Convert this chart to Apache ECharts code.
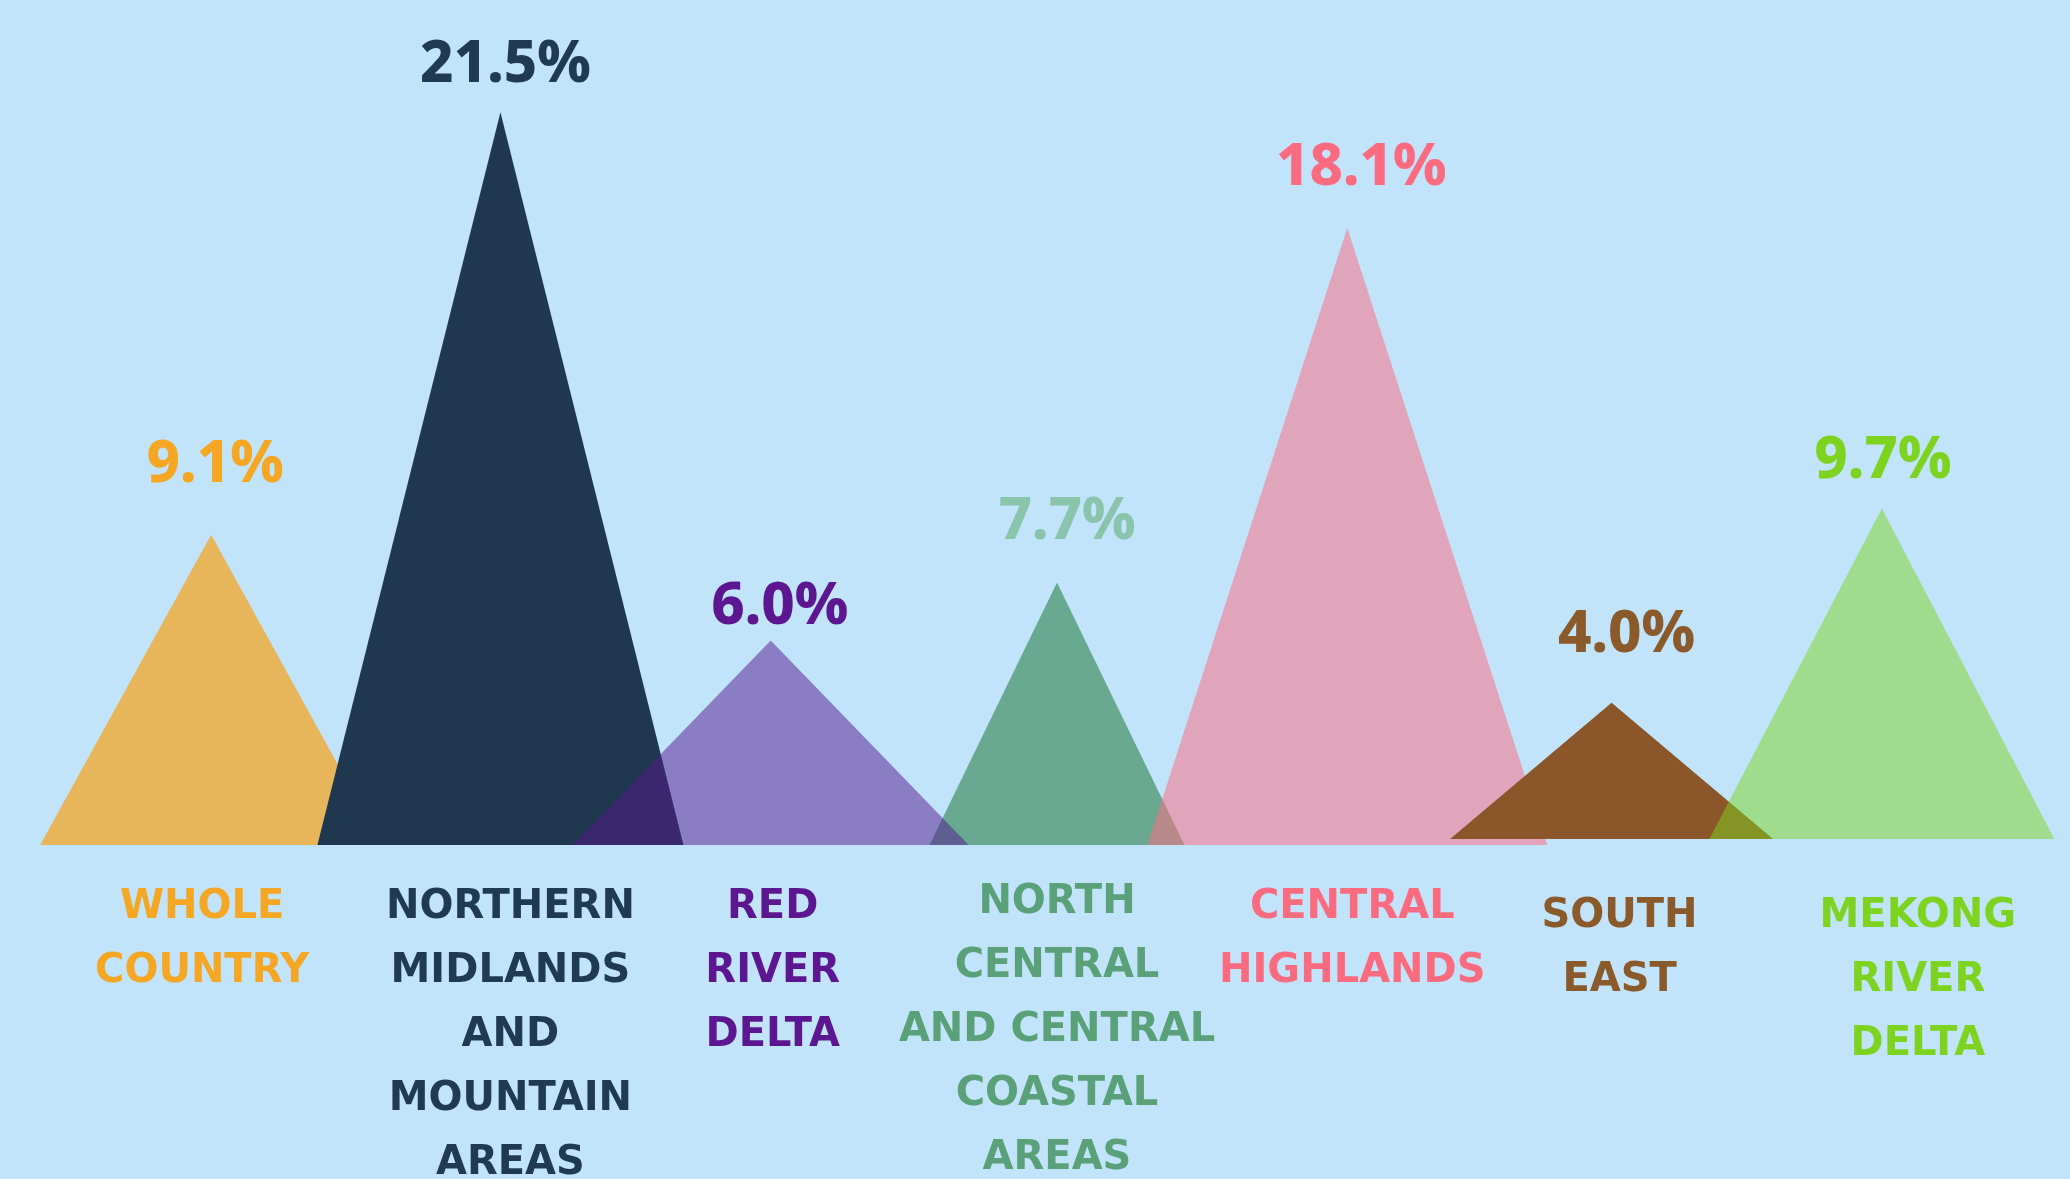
<!DOCTYPE html>
<html>
<head>
<meta charset="utf-8">
<script src="https://cdn.jsdelivr.net/npm/echarts@6/dist/echarts.min.js"></script>
<style>
  html, body { margin: 0; padding: 0; background: #c1e4fb; overflow: hidden; }
  #chart { width: 100vw; height: 100vh; }
</style>
</head>
<body>
<div id="chart"></div>
<script>
// ---- data ----
const categories = [
  'WHOLE\nCOUNTRY',
  'NORTHERN\nMIDLANDS\nAND\nMOUNTAIN\nAREAS',
  'RED\nRIVER\nDELTA',
  'NORTH\nCENTRAL\nAND CENTRAL\nCOASTAL\nAREAS',
  'CENTRAL\nHIGHLANDS',
  'SOUTH\nEAST',
  'MEKONG\nRIVER\nDELTA'
];
const values = [9.1, 21.5, 6.0, 7.7, 18.1, 4.0, 9.7];

// ---- styles ----
const fillColors = ['#e7b55a', '#20384f', 'rgba(83,22,141,0.5)', '#69a992',
                    'rgba(255,107,129,0.52)', '#8b572a', 'rgba(126,211,33,0.5)'];
const valueLabelColors = ['#f5a623', '#1f3a52', '#5b1690', '#8ac4ac', '#fb6b80', '#8b5a2b', '#7ed321'];
const catLabelColors = ['#f5a623', '#1f3a52', '#5b1690', '#5aa078', '#fb6b80', '#8b5a2b', '#7ed321'];
const triWidths = [342, 366, 396, 255, 400, 323, 345];
const triShiftX = [-8, 3, -5, 3, 15, 1, -7];
const triShiftY = [0, 0, 0, 0, 0, -6, -6];
const zOrder = [1, 2, 4, 3, 5, 6, 7];
const labelGaps = [40, 18, 4, 31, 31, 38, 18];
const valueLabelShiftX = [-4, 8, 4, 13, 29, 16, -6];
const catLabelShiftX = [-17, 13, -3, 3, 20, 9, 29];
const catLabelShiftY = [8, 8, 8, 3, 8, 17, 17];

const chart = echarts.init(document.getElementById('chart'), null, { renderer: 'canvas' });

const seriesData = values.map((v, i) => ({
  value: v,
  z: zOrder[i],
  symbolSize: [triWidths[i], '100%'],
  symbolOffset: [triShiftX[i], triShiftY[i]],
  itemStyle: { color: fillColors[i] },
  label: { color: valueLabelColors[i], distance: labelGaps[i], offset: [valueLabelShiftX[i], 0] }
}));

const rich = {};
categories.forEach((c, i) => {
  const s = catLabelShiftX[i];
  rich['c' + i] = {
    color: catLabelColors[i],
    fontFamily: 'DejaVu Sans',
    fontWeight: 'bold',
    fontSize: 40,
    lineHeight: 64,
    align: 'center',
    padding: [2 * catLabelShiftY[i], s < 0 ? -2 * s : 0, 0, s > 0 ? 2 * s : 0]
  };
});

chart.setOption({
  backgroundColor: '#c1e4fb',
  animation: false,
  grid: { left: 80, right: 42, top: 27, bottom: 334, containLabel: false, outerBoundsMode: 'none' },
  xAxis: {
    type: 'category',
    data: categories,
    axisLine: { show: false },
    axisTick: { show: false },
    splitLine: { show: false },
    axisLabel: {
      interval: 0,
      margin: 23,
      align: 'center',
      verticalAlign: 'top',
      formatter: (val, idx) => val.split('\n')
        .map(line => '{c' + idx + '|' + line + '}')
        .join('\n'),
      rich: rich
    }
  },
  yAxis: {
    type: 'value',
    min: 0,
    max: 24,
    show: false,
    splitLine: { show: false }
  },
  series: [{
    type: 'pictorialBar',
    symbol: 'triangle',
    symbolPosition: 'start',
    data: seriesData,
    label: {
      show: true,
      position: 'top',
      fontFamily: 'Noto Sans',
      fontWeight: 800,
      fontSize: 58,
      formatter: p => p.value.toFixed(1) + '%'
    }
  }]
});
</script>
</body>
</html>
